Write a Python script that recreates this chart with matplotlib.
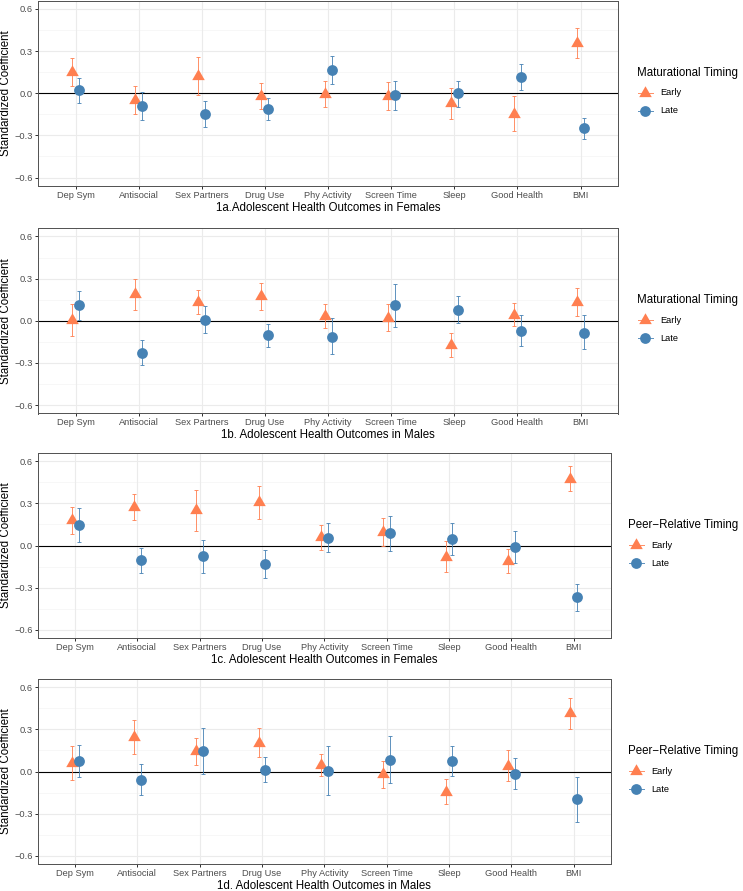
import matplotlib
matplotlib.use("Agg")
import matplotlib.pyplot as plt
from matplotlib.lines import Line2D

plt.rcParams['font.family'] = ['Liberation Sans', 'DejaVu Sans']

outcomes = ["Dep Sym", "Antisocial", "Sex Partners", "Drug Use", "Phy Activity",
            "Screen Time", "Sleep", "Good Health", "BMI"]
groups = ["Early", "Late"]
y_ticks = [-0.6, -0.3, 0.0, 0.3, 0.6]
y_tick_labels = ["\u22120.6", "\u22120.3", "0.0", "0.3", "0.6"]

# ---- 1a: maturational timing, females
a_early_est = [0.150, -0.045, 0.125, -0.020, -0.005, -0.020, -0.070, -0.145, 0.360]
a_early_lo = [0.055, -0.145, -0.010, -0.110, -0.100, -0.120, -0.180, -0.272, 0.250]
a_early_hi = [0.250, 0.050, 0.255, 0.073, 0.090, 0.080, 0.036, -0.020, 0.465]
a_late_est = [0.024, -0.090, -0.147, -0.113, 0.163, -0.014, 0.000, 0.117, -0.249]
a_late_lo = [-0.066, -0.187, -0.237, -0.190, 0.066, -0.116, -0.095, 0.025, -0.323]
a_late_hi = [0.110, 0.007, -0.054, -0.036, 0.263, 0.088, 0.090, 0.210, -0.178]

# ---- 1b: maturational timing, males
b_early_est = [0.008, 0.187, 0.135, 0.173, 0.033, 0.023, -0.173, 0.043, 0.132]
b_early_lo = [-0.107, 0.076, 0.045, 0.076, -0.054, -0.073, -0.256, -0.038, 0.033]
b_early_hi = [0.116, 0.296, 0.222, 0.267, 0.118, 0.118, -0.090, 0.123, 0.230]
b_late_est = [0.111, -0.227, 0.007, -0.102, -0.114, 0.109, 0.078, -0.071, -0.085]
b_late_lo = [0.005, -0.317, -0.088, -0.185, -0.239, -0.043, -0.014, -0.180, -0.204]
b_late_hi = [0.215, -0.137, 0.102, -0.021, 0.019, 0.263, 0.173, 0.038, 0.038]

# ---- 1c: peer-relative timing, females
c_early_est = [0.180, 0.272, 0.249, 0.310, 0.057, 0.095, -0.079, -0.113, 0.474]
c_early_lo = [0.085, 0.178, 0.100, 0.192, -0.031, -0.005, -0.189, -0.197, 0.386]
c_early_hi = [0.275, 0.367, 0.398, 0.426, 0.144, 0.194, 0.031, -0.028, 0.562]
c_late_est = [0.145, -0.104, -0.076, -0.133, 0.054, 0.090, 0.047, -0.012, -0.368]
c_late_lo = [0.027, -0.196, -0.194, -0.234, -0.047, -0.036, -0.069, -0.126, -0.463]
c_late_hi = [0.267, -0.017, 0.038, -0.031, 0.161, 0.213, 0.163, 0.104, -0.273]

# ---- 1d: peer-relative timing, males
d_early_est = [0.062, 0.247, 0.147, 0.206, 0.045, -0.019, -0.142, 0.043, 0.417]
d_early_lo = [-0.057, 0.128, 0.050, 0.104, -0.033, -0.116, -0.230, -0.066, 0.306]
d_early_hi = [0.180, 0.365, 0.242, 0.308, 0.123, 0.078, -0.055, 0.152, 0.526]
d_late_est = [0.074, -0.057, 0.145, 0.014, 0.005, 0.081, 0.074, -0.014, -0.197]
d_late_lo = [-0.040, -0.164, -0.019, -0.076, -0.168, -0.085, -0.033, -0.123, -0.358]
d_late_hi = [0.187, 0.052, 0.308, 0.107, 0.185, 0.251, 0.185, 0.095, -0.036]

x_titles = ["1a.Adolescent Health Outcomes in Females",
            "1b. Adolescent Health Outcomes in Males",
            "1c. Adolescent Health Outcomes in Females",
            "1d. Adolescent Health Outcomes in Males"]
legend_titles = ["Maturational Timing", "Maturational Timing",
                 "Peer\u2212Relative Timing", "Peer\u2212Relative Timing"]

panels = [
    (a_early_est, a_early_lo, a_early_hi, a_late_est, a_late_lo, a_late_hi),
    (b_early_est, b_early_lo, b_early_hi, b_late_est, b_late_lo, b_late_hi),
    (c_early_est, c_early_lo, c_early_hi, c_late_est, c_late_lo, c_late_hi),
    (d_early_est, d_early_lo, d_early_hi, d_late_est, d_late_lo, d_late_hi),
]

W, H = 743, 891
DPI = 72
fig = plt.figure(figsize=(W / DPI, H / DPI), dpi=DPI)
fig.patch.set_facecolor("white")

# panel rectangles in pixels: left, top, right, bottom
rects = [(37.7, 0.5, 618.5, 186.0),
         (37.7, 228.0, 618.5, 413.5),
         (37.7, 452.7, 611.0, 638.3),
         (37.7, 678.8, 611.0, 864.3)]

early_col = "#FF7F50"
late_col = "#4682B4"
tri = [(0.0, 1.0), (-0.866, -0.5), (0.866, -0.5)]
dodge = 0.055
grey30 = "#4D4D4D"
grey20 = "#333333"

for i, (data, (l, t, r, b)) in enumerate(zip(panels, rects)):
    e_est, e_lo, e_hi, l_est, l_lo, l_hi = data
    ax = fig.add_axes([l / W, 1 - b / H, (r - l) / W, (b - t) / H])
    ax.set_facecolor("white")
    xs = list(range(1, len(outcomes) + 1))
    xe = [x - dodge for x in xs]
    xl = [x + dodge for x in xs]

    # grid
    for y in [-0.45, -0.15, 0.15, 0.45]:
        ax.axhline(y, color="#F2F2F2", lw=0.6, zorder=0)
    for y in y_ticks:
        ax.axhline(y, color="#EBEBEB", lw=1.1, zorder=0)
    for x in xs:
        ax.axvline(x, color="#EBEBEB", lw=1.1, zorder=0)
    ax.axhline(0, color="black", lw=1.1, zorder=1)

    e_err = [[e - lo for e, lo in zip(e_est, e_lo)], [hi - e for e, hi in zip(e_est, e_hi)]]
    l_err = [[e - lo for e, lo in zip(l_est, l_lo)], [hi - e for e, hi in zip(l_est, l_hi)]]
    ax.errorbar(xe, e_est, yerr=e_err, fmt="none", ecolor=early_col, elinewidth=1.0,
                capsize=1.6, capthick=1.0, alpha=0.85, zorder=2)
    ax.errorbar(xl, l_est, yerr=l_err, fmt="none", ecolor=late_col, elinewidth=1.0,
                capsize=1.6, capthick=1.0, alpha=0.85, zorder=2)
    ax.plot(xe, e_est, linestyle="none", marker=tri, markersize=14.5,
            color=early_col, markeredgewidth=0, zorder=3)
    ax.plot(xl, l_est, linestyle="none", marker="o", markersize=10.8,
            color=late_col, markeredgewidth=0, zorder=4)

    ax.set_xlim(0.4, 9.6)
    ax.set_ylim(-0.66, 0.66)
    ax.set_xticks(xs)
    ax.set_xticklabels(outcomes)
    ax.set_yticks(y_ticks)
    ax.set_yticklabels(y_tick_labels)
    ax.tick_params(axis="both", length=3, width=1.0, color=grey20,
                   labelsize=9.2, labelcolor=grey30, pad=2)
    for sp in ax.spines.values():
        sp.set_color("#555555")
        sp.set_linewidth(1.0)

    hpx = b - t
    wpx = r - l
    ax.set_ylabel("Standardized Coefficient", fontsize=11.5, color="black")
    ax.yaxis.set_label_coords((5.5 - l) / wpx, 0.5)
    ax.yaxis.label.set_va("center")
    ax.set_xlabel(x_titles[i], fontsize=11.5, color="black")
    ax.xaxis.set_label_coords(0.5, -22.0 / hpx)
    ax.xaxis.label.set_va("center")

    # legend (manual placement to mimic ggplot's right-side legend)
    tx = r + (18.5 if i < 2 else 17.0)
    fig.text(tx / W, 1 - (t + 72.5) / H, legend_titles[i], fontsize=11.5,
             color="black", va="center", ha="left")
    for g, (col, mk, ms, yy) in zip(groups, [(early_col, tri, 14.5, 92.3),
                                             (late_col, "o", 10.8, 110.3)]):
        kx = tx + 8.0
        fig.add_artist(Line2D([(kx - 7.5) / W, (kx + 7.5) / W],
                              [1 - (t + yy) / H, 1 - (t + yy) / H],
                              transform=fig.transFigure, color=col, lw=1.0, alpha=0.85))
        fig.add_artist(Line2D([kx / W], [1 - (t + yy) / H], transform=fig.transFigure,
                              linestyle="none", marker=mk, markersize=ms, color=col,
                              markeredgewidth=0))
        fig.text((tx + 23.0) / W, 1 - (t + yy) / H, g, fontsize=9.2, color="black",
                 va="center", ha="left")

fig.savefig("out.png", dpi=DPI, facecolor="white")
